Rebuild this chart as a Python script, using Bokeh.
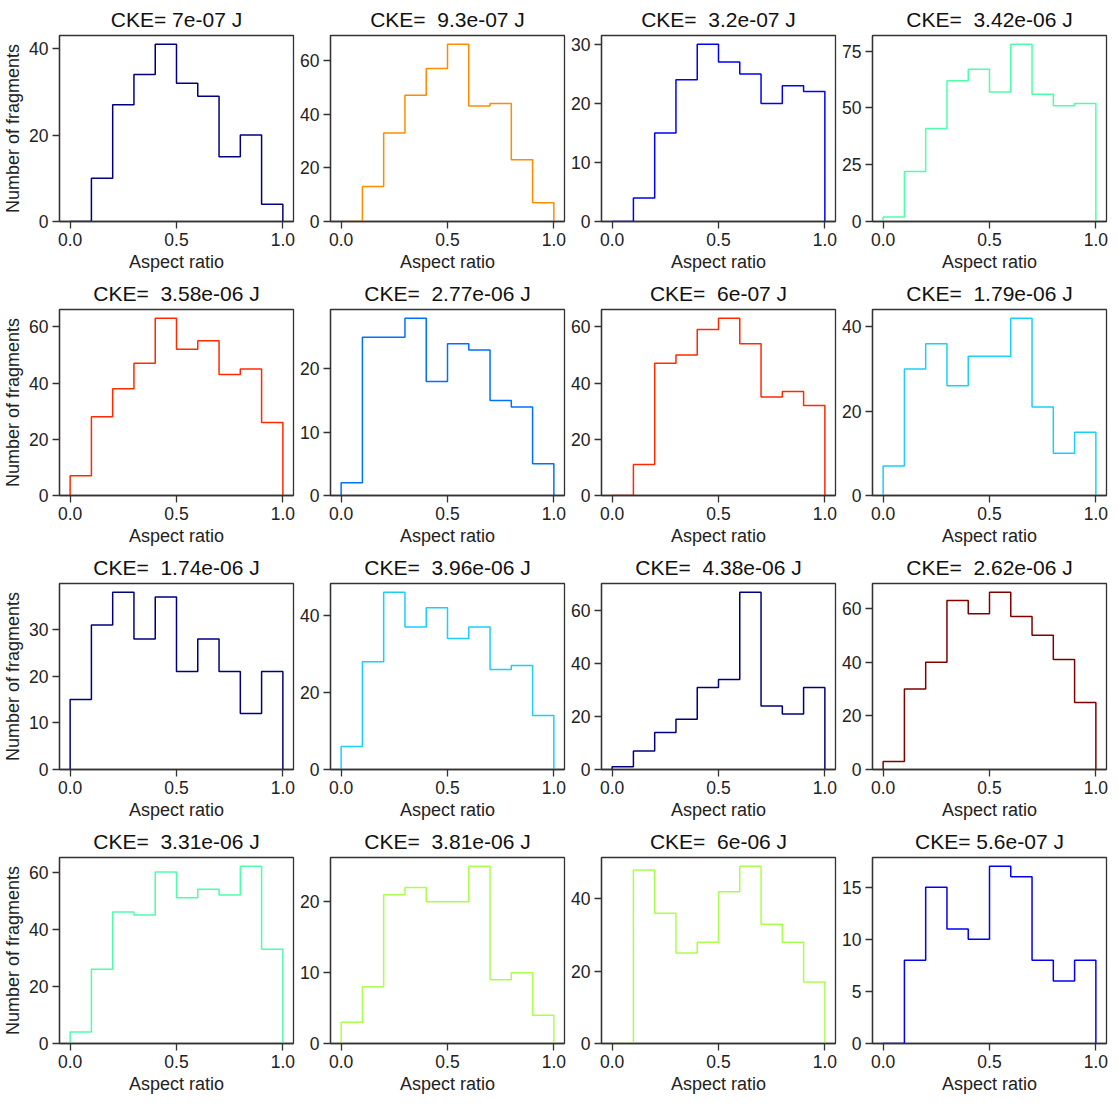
import numpy as np
from bokeh.plotting import figure
from bokeh.layouts import gridplot
from bokeh.models import FixedTicker, SingleIntervalTicker, Range1d
from bokeh.embed import file_html
from bokeh.resources import INLINE

edges = [0.0, 0.1, 0.2, 0.3, 0.4, 0.5, 0.6, 0.7, 0.8, 0.9, 1.0]

titles = ["CKE= 7e-07 J", "CKE=  9.3e-07 J", "CKE=  3.2e-07 J", "CKE=  3.42e-06 J",
          "CKE=  3.58e-06 J", "CKE=  2.77e-06 J", "CKE=  6e-07 J", "CKE=  1.79e-06 J",
          "CKE=  1.74e-06 J", "CKE=  3.96e-06 J", "CKE=  4.38e-06 J", "CKE=  2.62e-06 J",
          "CKE=  3.31e-06 J", "CKE=  3.81e-06 J", "CKE=  6e-06 J", "CKE= 5.6e-07 J"]

counts = [
    [0, 10, 27, 34, 41, 32, 29, 15, 20, 4],
    [0, 13, 33, 47, 57, 66, 43, 44, 23, 7],
    [0, 4, 15, 24, 30, 27, 25, 20, 23, 22],
    [2, 22, 41, 62, 67, 57, 78, 56, 51, 52],
    [7, 28, 38, 47, 63, 52, 55, 43, 45, 26],
    [2, 25, 25, 28, 18, 24, 23, 15, 14, 5],
    [0, 11, 47, 50, 59, 63, 54, 35, 37, 32],
    [7, 30, 36, 26, 33, 33, 42, 21, 10, 15],
    [15, 31, 38, 28, 37, 21, 28, 21, 12, 21],
    [6, 28, 46, 37, 42, 34, 37, 26, 27, 14],
    [1, 7, 14, 19, 31, 34, 67, 24, 21, 31],
    [3, 30, 40, 63, 58, 66, 57, 50, 41, 25],
    [4, 26, 46, 45, 60, 51, 54, 52, 62, 33],
    [3, 8, 21, 22, 20, 20, 25, 9, 10, 4],
    [0, 48, 36, 25, 28, 42, 49, 33, 28, 17],
    [0, 8, 15, 11, 10, 17, 16, 8, 6, 8],
]

colors = ["#00007f", "#ff8c00", "#0000f6", "#4dffaa",
          "#ff2a00", "#0070ff", "#ff2a00", "#1ad0f5",
          "#00007f", "#1ad0f5", "#00007f", "#800000",
          "#4dffaa", "#aaff4d", "#aaff4d", "#0000f6"]

yticks = [20, 20, 10, 25, 20, 10, 20, 20, 10, 20, 20, 20, 20, 10, 20, 5]

FONT = "Liberation Sans"
figs = []
for i in range(16):
    col = i % 4
    p = figure(output_backend="svg", toolbar_location=None, tools="",
               frame_width=234, frame_height=186,
               min_border_left=44 if col == 0 else 28,
               min_border_right=14 if col == 3 else 4,
               min_border_top=10, min_border_bottom=28)
    h = counts[i]
    xs = np.repeat(edges, 2)
    ys = np.concatenate([[0], np.repeat(h, 2), [0]])
    p.line(xs, ys, line_color=colors[i], line_width=1.5)
    p.x_range = Range1d(-0.05, 1.05)
    p.y_range = Range1d(0, max(h) * 1.05)
    p.title.text = titles[i].replace("  ", " \u00a0")
    p.title.align = "center"
    p.title.text_font = FONT
    p.title.text_font_size = "21px"
    p.title.text_font_style = "normal"
    p.title.text_color = "#111111"
    p.xaxis.ticker = FixedTicker(ticks=[0.0, 0.5, 1.0])
    p.xaxis.major_label_overrides = {0.0: "0.0", 0.5: "0.5", 1.0: "1.0"}
    p.yaxis.ticker = SingleIntervalTicker(interval=yticks[i])
    p.xaxis.axis_label = "Aspect ratio"
    if col == 0:
        p.yaxis.axis_label = "Number of fragments"
    for ax in (p.xaxis, p.yaxis):
        ax.axis_label_text_font = FONT
        ax.axis_label_text_font_size = "18px"
        ax.axis_label_text_font_style = "normal"
        ax.axis_label_text_color = "#222222"
        ax.axis_label_standoff = 3
        ax.major_label_text_font = FONT
        ax.major_label_text_font_size = "17.5px"
        ax.major_label_text_color = "#222222"
        ax.major_label_standoff = 4
        ax.minor_tick_line_color = None
        ax.major_tick_out = 7
        ax.major_tick_in = 0
        ax.major_tick_line_color = "#333333"
        ax.major_tick_line_width = 1.3
        ax.axis_line_color = "#333333"
        ax.axis_line_width = 1.3
    p.grid.visible = False
    p.outline_line_color = "#333333"
    p.outline_line_width = 1.3
    p.outline_line_alpha = 1
    figs.append(p)

grid = gridplot([figs[r * 4:(r + 1) * 4] for r in range(4)], toolbar_location=None)
open("out.html", "w").write(file_html(grid, INLINE))
